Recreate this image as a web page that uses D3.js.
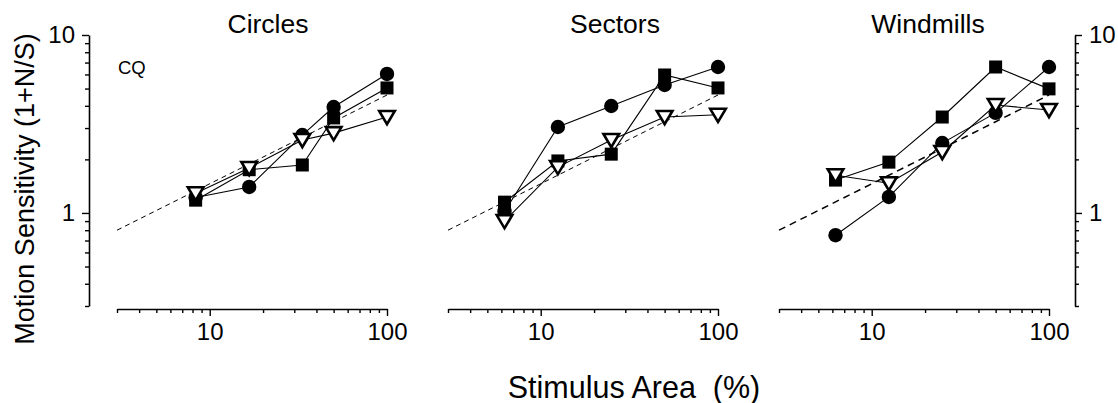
<!DOCTYPE html>
<html>
<head>
<meta charset="utf-8">
<script src="https://cdn.jsdelivr.net/npm/d3@7"></script>
<style>
  html, body { margin: 0; padding: 0; background: #fff; }
  svg { display: block; font-family: "Liberation Sans", Arial, Helvetica, sans-serif; }
</style>
</head>
<body>
<svg id="chart" width="1118" height="403"></svg>
<script>
// ---------------- data ----------------
const panelNames = ["Circles", "Sectors", "Windmills"];
const circlesX   = [8.33, 16.7, 33.3, 50, 100];
const sectorsX   = [6.25, 12.5, 25, 50, 100];
const windmillsX = [6.25, 12.5, 25, 50, 100];

const circlesDot  = [1.22, 1.40, 2.74, 3.94, 6.04];
const circlesSq   = [1.18, 1.75, 1.86, 3.42, 5.04];
const circlesTri  = [1.29, 1.79, 2.57, 2.81, 3.46];

const sectorsDot  = [1.02, 3.04, 3.99, 5.24, 6.61];
const sectorsSq   = [1.15, 1.96, 2.14, 5.96, 5.04];
const sectorsTri  = [0.90, 1.81, 2.57, 3.46, 3.56];

const windmillsDot = [0.75, 1.23, 2.47, 3.65, 6.61];
const windmillsSq  = [1.53, 1.93, 3.46, 6.61, 4.98];
const windmillsTri = [1.63, 1.47, 2.20, 4.04, 3.79];

const refX = [3, 100];
const refY = [0.8, 4.6];

const xTicks = [3, 4, 5, 6, 7, 8, 9, 10, 20, 30, 40, 50, 60, 70, 80, 90, 100];
const xTickLabels = [10, 100];
const yTicks = [0.3, 0.4, 0.5, 0.6, 0.7, 0.8, 0.9, 1, 2, 3, 4, 5, 6, 7, 8, 9, 10];
const yTickLabels = [1, 10];

const panelX = [circlesX, sectorsX, windmillsX];
const panelDot = [circlesDot, sectorsDot, windmillsDot];
const panelSq = [circlesSq, sectorsSq, windmillsSq];
const panelTri = [circlesTri, sectorsTri, windmillsTri];

// ---------------- layout ----------------
const svg = d3.select("#chart");
const panelLeft = [117, 448, 779];
const panelW = 270;
const yTop = 35, yBottom = 306;
const xAxisY = 309;
const titleCx = [268, 615, 928];
const refDash = ["5,4", "5,4", "7,5"];
const refWidth = [1, 1, 1.5];

const y = d3.scaleLog().domain([0.3, 10]).range([yBottom, yTop]);

function styleAxis(g) {
  g.select(".domain").attr("stroke", "#000").attr("stroke-width", 1.6);
  g.selectAll(".tick line").attr("stroke", "#000").attr("stroke-width", 1.4);
  g.selectAll(".tick text").attr("fill", "#000").style("font-size", "24px")
    .style("font-family", '"Liberation Sans", Arial, Helvetica, sans-serif');
}

panelNames.forEach((name, i) => {
  const x = d3.scaleLog().domain([3, 100]).range([panelLeft[i], panelLeft[i] + panelW]);
  const g = svg.append("g");

  // x axis
  const xa = g.append("g").attr("transform", `translate(0,${xAxisY})`)
    .call(d3.axisBottom(x).tickValues(xTicks).tickSizeInner(4).tickSizeOuter(0)
      .tickPadding(10)
      .tickFormat(d => xTickLabels.includes(d) ? String(d) : ""));
  styleAxis(xa);
  xa.selectAll(".tick").filter(d => xTickLabels.includes(d)).select("line").attr("y2", 7);
  xa.selectAll(".tick text").attr("dy", "0.71em").attr("y", 14);

  // title
  g.append("text").attr("x", titleCx[i]).attr("y", 33).attr("text-anchor", "middle")
    .style("font-size", "26.5px").text(name);

  // reference dashed line
  const line = d3.line().x(d => x(d[0])).y(d => y(d[1]));
  g.append("path").datum(refX.map((v, k) => [v, refY[k]]))
    .attr("d", line).attr("fill", "none").attr("stroke", "#000")
    .attr("stroke-width", refWidth[i]).attr("stroke-dasharray", refDash[i]);

  const xs = panelX[i];
  const series = [panelSq[i], panelDot[i], panelTri[i]];
  series.forEach(vals => {
    g.append("path").datum(xs.map((v, k) => [v, vals[k]]))
      .attr("d", line).attr("fill", "none").attr("stroke", "#000").attr("stroke-width", 1.1);
  });

  // markers: squares, circles, triangles
  g.selectAll(".sq").data(xs.map((v, k) => [v, panelSq[i][k]])).enter().append("rect")
    .attr("x", d => x(d[0]) - 6.5).attr("y", d => y(d[1]) - 6.5)
    .attr("width", 13).attr("height", 13).attr("fill", "#000");
  g.selectAll(".dot").data(xs.map((v, k) => [v, panelDot[i][k]])).enter().append("circle")
    .attr("cx", d => x(d[0])).attr("cy", d => y(d[1])).attr("r", 7.2).attr("fill", "#000");
  g.selectAll(".tri").data(xs.map((v, k) => [v, panelTri[i][k]])).enter().append("path")
    .attr("d", "M-7.8,-6L7.8,-6L0,7.2Z")
    .attr("transform", d => `translate(${x(d[0])},${y(d[1])})`)
    .attr("fill", "#fff").attr("stroke", "#000").attr("stroke-width", 2.6)
    .attr("stroke-linejoin", "miter");
});

// left y axis
const yl = svg.append("g").attr("transform", "translate(89,0)")
  .call(d3.axisLeft(y).tickValues(yTicks).tickSizeInner(4).tickSizeOuter(0).tickPadding(10)
    .tickFormat(d => yTickLabels.includes(d) ? String(d) : ""));
styleAxis(yl);
yl.selectAll(".tick").filter(d => yTickLabels.includes(d)).select("line").attr("x2", -7);

// right y axis
const yr = svg.append("g").attr("transform", "translate(1075,0)")
  .call(d3.axisRight(y).tickValues(yTicks).tickSizeInner(4).tickSizeOuter(0).tickPadding(10)
    .tickFormat(d => yTickLabels.includes(d) ? String(d) : ""));
styleAxis(yr);
yr.selectAll(".tick").filter(d => yTickLabels.includes(d)).select("line").attr("x2", 7);

// labels
svg.append("text").attr("x", 118).attr("y", 74).style("font-size", "18.5px").text("CQ");
svg.append("text").attr("transform", "translate(34,189) rotate(-90)")
  .attr("text-anchor", "middle").style("font-size", "27px").text("Motion Sensitivity (1+N/S)");
svg.append("text").attr("x", 634).attr("y", 398).attr("text-anchor", "middle")
  .style("font-size", "30.5px").attr("xml:space", "preserve")
  .text("Stimulus Area  (%)");
</script>
</body>
</html>
